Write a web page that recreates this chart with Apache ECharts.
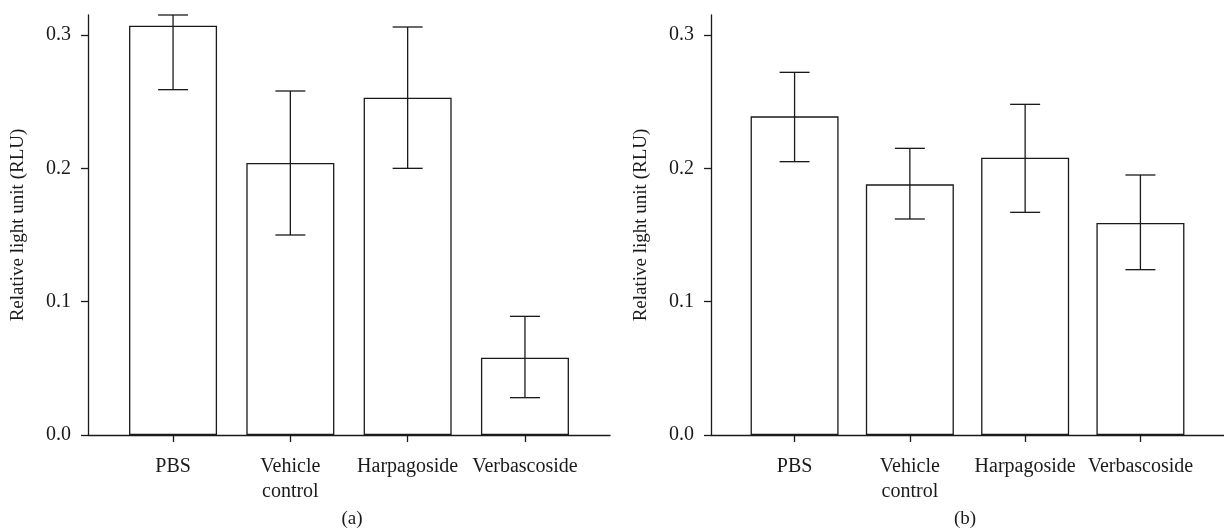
<!DOCTYPE html>
<html>
<head>
<meta charset="utf-8">
<script src="https://cdn.jsdelivr.net/npm/echarts@6/dist/echarts.min.js"></script>
<style>
  html, body { margin: 0; padding: 0; background: #fff; }
  #chart { width: 1224px; height: 532px; }
</style>
</head>
<body>
<div id="chart"></div>
<script>
// categories and positions on the x axis
const categories = ['PBS', 'Vehicle\ncontrol', 'Harpagoside', 'Verbascoside'];
const catPos = [0, 1, 2, 3];
const yTicks = [0, 0.1, 0.2, 0.3];

// panel (a)
const meanA = [0.307, 0.204, 0.253, 0.058];
const lowA = [0.259, 0.150, 0.200, 0.028];
const highA = [0.315, 0.258, 0.306, 0.089];

// panel (b)
const meanB = [0.239, 0.188, 0.208, 0.159];
const lowB = [0.205, 0.162, 0.167, 0.124];
const highB = [0.272, 0.215, 0.248, 0.195];

const ink = '#1a1a1a';
const font = 'Liberation Serif';
const fs = 20;

const chart = echarts.init(document.getElementById('chart'));

function xAxisFor(gridIndex) {
    return {
        type: 'value',
        gridIndex: gridIndex,
        min: -0.725,
        max: 3.725,
        splitLine: { show: false },
        axisLine: { onZero: false, lineStyle: { color: ink, width: 1.3 } },
        axisTick: {
            customValues: catPos,
            length: 7,
            lineStyle: { color: ink, width: 1.3 }
        },
        axisLabel: {
            customValues: catPos,
            formatter: (v) => categories[Math.round(v)],
            color: ink,
            fontFamily: font,
            fontSize: fs,
            lineHeight: 25,
            margin: 19
        }
    };
}

function yAxisFor(gridIndex) {
    return {
        type: 'value',
        gridIndex: gridIndex,
        min: 0,
        max: 0.315,
        name: 'Relative light unit (RLU)',
        nameLocation: 'middle',
        nameGap: 60,
        nameTextStyle: { color: ink, fontFamily: font, fontSize: 19 },
        splitLine: { show: false },
        axisLine: { show: true, onZero: false, lineStyle: { color: ink, width: 1.3 } },
        axisTick: {
            show: true,
            customValues: yTicks,
            length: 7,
            lineStyle: { color: ink, width: 1.3 }
        },
        axisLabel: {
            customValues: yTicks,
            formatter: (v) => v.toFixed(1),
            color: ink,
            fontFamily: font,
            fontSize: fs,
            margin: 17
        }
    };
}

function barSeries(idx, mean) {
    return {
        type: 'bar',
        xAxisIndex: idx,
        yAxisIndex: idx,
        barWidth: 88,
        data: catPos.map((c, i) => [c, mean[i]]),
        itemStyle: { color: '#fff', borderColor: ink, borderWidth: 1.3 },
        silent: true
    };
}

// error bars: vertical line with caps
function errSeries(idx, low, high) {
    return {
        type: 'custom',
        xAxisIndex: idx,
        yAxisIndex: idx,
        silent: true,
        z: 5,
        data: catPos.map((c, i) => [c, low[i], high[i]]),
        encode: { x: 0, y: [1, 2] },
        renderItem: function (params, api) {
            const lo = api.coord([api.value(0), api.value(1)]);
            const hi = api.coord([api.value(0), api.value(2)]);
            const half = 15;
            const style = { stroke: ink, lineWidth: 1.3 };
            return {
                type: 'group',
                children: [
                    { type: 'line', shape: { x1: hi[0], y1: hi[1], x2: lo[0], y2: lo[1] }, style: style },
                    { type: 'line', shape: { x1: hi[0] - half, y1: hi[1], x2: hi[0] + half, y2: hi[1] }, style: style },
                    { type: 'line', shape: { x1: lo[0] - half, y1: lo[1], x2: lo[0] + half, y2: lo[1] }, style: style }
                ]
            };
        }
    };
}

const option = {
    backgroundColor: '#fff',
    animation: false,
    title: [
        { text: '(a)', left: 347, top: 505, textAlign: 'center',
          textStyle: { color: ink, fontFamily: font, fontSize: 19, fontWeight: 'normal' } },
        { text: '(b)', left: 960, top: 505, textAlign: 'center',
          textStyle: { color: ink, fontFamily: font, fontSize: 19, fontWeight: 'normal' } }
    ],
    grid: [
        { left: 88, top: 15, width: 522, height: 420 },
        { left: 711, top: 15, width: 522, height: 420 }
    ],
    xAxis: [xAxisFor(0), xAxisFor(1)],
    yAxis: [yAxisFor(0), yAxisFor(1)],
    series: [
        barSeries(0, meanA),
        errSeries(0, lowA, highA),
        barSeries(1, meanB),
        errSeries(1, lowB, highB)
    ]
};

chart.setOption(option);
</script>
</body>
</html>
